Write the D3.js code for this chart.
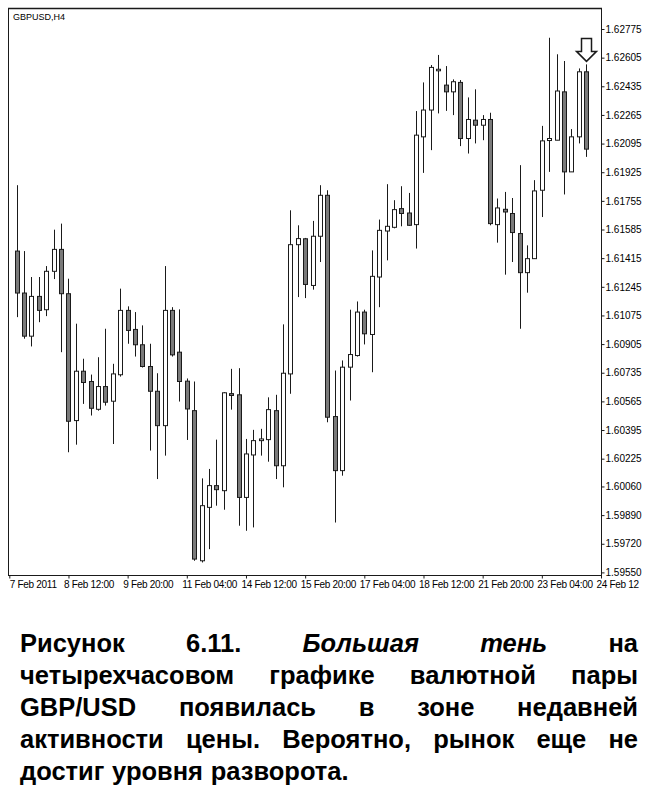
<!DOCTYPE html>
<html><head><meta charset="utf-8">
<script src="https://cdn.jsdelivr.net/npm/d3@7"></script>
<style>html,body{margin:0;padding:0;background:#fff;} svg{display:block;}</style>
</head><body>
<svg id="chart" width="650" height="797"></svg>
<script>
const symbolLabel = "GBPUSD,H4";
const openVals = [1.61457,1.61208,1.60952,1.61188,1.61109,1.61337,1.61467,1.61204,1.60451,1.60744,
 1.60683,1.60518,1.60653,1.60566,1.60723,1.61105,1.60992,1.60901,1.60772,1.60625,
 1.60421,1.61105,1.60857,1.60685,1.60510,1.59619,1.59936,1.60065,1.60035,1.60611,
 1.60604,1.59995,1.60247,1.60332,1.60338,1.60510,1.60183,1.60728,1.61495,1.61530,
 1.61253,1.61545,1.61788,1.60475,1.60154,1.60768,1.60837,1.61095,1.60962,1.61303,
 1.61576,1.61598,1.61709,1.61683,1.61614,1.62135,1.62294,1.62527,1.62442,1.62402,
 1.62458,1.62125,1.62234,1.62204,1.62238,1.61614,1.61705,1.61680,1.61561,1.61329,
 1.61412,1.61818,1.62113,1.62115,1.62402,1.61927,1.62135,1.62521];
const highVals = [1.61848,1.61457,1.61303,1.61303,1.61368,1.61584,1.61620,1.61293,1.61026,1.60818,
 1.60724,1.60827,1.60996,1.60788,1.61234,1.61129,1.61095,1.61016,1.60907,1.60732,
 1.61368,1.61124,1.61111,1.60701,1.60683,1.60108,1.60164,1.60338,1.60620,1.60758,
 1.60762,1.60342,1.60396,1.60402,1.60589,1.60604,1.61022,1.61699,1.61610,1.61535,
 1.61636,1.61848,1.61818,1.60748,1.60808,1.61109,1.61158,1.61109,1.61461,1.61644,
 1.61854,1.61759,1.61842,1.61802,1.62288,1.62458,1.62561,1.62621,1.62555,1.62476,
 1.62472,1.62369,1.62417,1.62264,1.62278,1.61769,1.61808,1.61772,1.61967,1.61491,
 1.61878,1.62200,1.62723,1.62625,1.62585,1.62181,1.62541,1.62565];
const lowVals = [1.61065,1.60937,1.60891,1.61035,1.61071,1.61291,1.60857,1.60263,1.60308,1.60550,
 1.60481,1.60510,1.60540,1.60312,1.60712,1.60907,1.60831,1.60766,1.60273,1.60104,
 1.60243,1.60831,1.60564,1.60336,1.59619,1.59609,1.59688,1.59946,1.59922,1.60516,
 1.59827,1.59797,1.59817,1.60243,1.60207,1.60104,1.60055,1.60610,1.61184,1.61178,
 1.61228,1.61392,1.60441,1.59846,1.60124,1.60570,1.60831,1.60903,1.60738,1.61124,
 1.61402,1.61592,1.61604,1.61607,1.61472,1.61921,1.62056,1.62274,1.62289,1.62264,
 1.62080,1.62036,1.62096,1.62115,1.61610,1.61507,1.61317,1.61392,1.60996,1.61210,
 1.61412,1.61659,1.61927,1.62115,1.61793,1.61927,1.62096,1.62016];
const closeVals = [1.61208,1.60952,1.61188,1.61105,1.61337,1.61467,1.61204,1.60447,1.60744,1.60677,
 1.60524,1.60653,1.60560,1.60728,1.61105,1.60986,1.60901,1.60772,1.60625,1.60421,
 1.61105,1.60841,1.60683,1.60520,1.59629,1.59946,1.60065,1.60041,1.60616,1.60600,
 1.59995,1.60253,1.60332,1.60342,1.60516,1.60183,1.60732,1.61495,1.61531,1.61259,
 1.61545,1.61788,1.60471,1.60154,1.60768,1.60843,1.61095,1.60966,1.61307,1.61580,
 1.61604,1.61703,1.61680,1.61610,1.62145,1.62294,1.62547,1.62536,1.62402,1.62462,
 1.62125,1.62238,1.62204,1.62238,1.61620,1.61713,1.61689,1.61567,1.61329,1.61412,
 1.61814,1.62111,1.62125,1.62407,1.61927,1.62135,1.62521,1.62062];
const yTickValues = [1.62775,1.62605,1.62435,1.62265,1.62095,1.61925,1.61755,1.61585,1.61415,1.61245,
 1.61075,1.60905,1.60735,1.60565,1.60395,1.60225,1.60060,1.59890,1.59720,1.59550];
const xTickLabels = ["7 Feb 2011","8 Feb 12:00","9 Feb 20:00","11 Feb 04:00","14 Feb 12:00",
 "15 Feb 20:00","17 Feb 04:00","18 Feb 12:00","21 Feb 20:00","23 Feb 04:00","24 Feb 12"];
const xTickBars = [-1,7,15,23,31,39,47,55,63,71,79];
const markedBar = 77;
const captionLines = [
  [["Рисунок",0],["6.11.",0],["Большая",1],["тень",1],["на",0]],
  [["четырехчасовом",0],["графике",0],["валютной",0],["пары",0]],
  [["GBP/USD",0],["появилась",0],["в",0],["зоне",0],["недавней",0]],
  [["активности",0],["цены.",0],["Вероятно,",0],["рынок",0],["еще",0],["не",0]],
  [["достиг",0],["уровня",0],["разворота.",0]]
];

const svg = d3.select("#chart");
const pLeft = 8, pTop = 8, pRight = 601, pBottom = 575;
const x = d3.scaleLinear().domain([-1, 79]).range([9.3, 601]);
const y = d3.scaleLinear().domain([1.59550, 1.62775]).range([572.4, 29]);
const font = "'Liberation Sans', Arial, sans-serif";
const ink = "#1a1a1a";

// frame
svg.append("rect").attr("x", pLeft + 0.5).attr("y", pTop + 0.5)
  .attr("width", pRight - pLeft).attr("height", pBottom - pTop)
  .attr("fill", "#fff").attr("stroke", ink).attr("stroke-width", 1);
svg.append("line").attr("x1", pLeft).attr("x2", pRight + 1).attr("y1", pTop + 0.5).attr("y2", pTop + 0.5)
  .attr("stroke", ink).attr("stroke-width", 1.6);

svg.append("text").attr("x", 13).attr("y", 20).attr("font-family", font)
  .attr("font-size", 9).attr("fill", "#000").text(symbolLabel);

// y axis on right
const yAxis = d3.axisRight(y).tickValues(yTickValues).tickSize(3).tickPadding(1)
  .tickFormat(d3.format(".5f"));
const gy = svg.append("g").attr("transform", `translate(${pRight + 0.5},0)`).call(yAxis);
gy.select(".domain").remove();
gy.selectAll("line").attr("stroke", ink);
gy.selectAll("text").attr("font-family", font).attr("font-size", 10).attr("fill", "#000");

// x axis
const xAxis = d3.axisBottom(x).tickValues(xTickBars).tickSize(3).tickFormat((d, i) => xTickLabels[i]);
const gx = svg.append("g").attr("transform", `translate(0,${pBottom + 0.5})`).call(xAxis);
gx.select(".domain").remove();
gx.selectAll("line").attr("stroke", ink);
gx.selectAll("text").attr("font-family", font).attr("font-size", 10).attr("fill", "#000")
  .attr("letter-spacing", -0.3)
  .attr("text-anchor", "start").attr("dx", (d, i) => i === 0 ? 0 : -5).attr("y", 5).attr("dy", "0.71em");

// candles
const idx = d3.range(openVals.length);
const g = svg.append("g");
g.selectAll("line.wick").data(idx).join("line").attr("class", "wick")
  .attr("x1", i => Math.round(x(i)) + 0.5).attr("x2", i => Math.round(x(i)) + 0.5)
  .attr("y1", i => y(highVals[i])).attr("y2", i => y(lowVals[i]))
  .attr("stroke", ink).attr("stroke-width", 1);
g.selectAll("rect.body").data(idx).join("rect").attr("class", "body")
  .attr("x", i => Math.round(x(i)) - 1.5).attr("width", 4)
  .attr("y", i => y(Math.max(openVals[i], closeVals[i])))
  .attr("height", i => Math.max(1, Math.abs(y(openVals[i]) - y(closeVals[i]))))
  .attr("fill", i => closeVals[i] >= openVals[i] ? "#fff" : "#7a7a7a")
  .attr("stroke", ink).attr("stroke-width", 1);

// arrow above marked bar
const ax = Math.round(x(markedBar)) + 0.5, at = y(highVals[markedBar]) - 3;
svg.append("path")
  .attr("d", `M${ax},${at} L${ax - 10},${at - 10} L${ax - 5},${at - 10} L${ax - 5},${at - 23} L${ax + 5},${at - 23} L${ax + 5},${at - 10} L${ax + 10},${at - 10} Z`)
  .attr("fill", "#fff").attr("stroke", ink).attr("stroke-width", 1.5);

// caption
const capLeft = 20, capRight = 638, capFont = 25.5;
captionLines.forEach((words, li) => {
  const by = 652 + li * 32;
  const texts = words.map(([w, it]) => svg.append("text")
    .attr("y", by).attr("font-family", font).attr("font-size", capFont)
    .attr("font-weight", "bold").attr("font-style", it ? "italic" : "normal")
    .attr("fill", "#000").text(w));
  const widths = texts.map(t => t.node().getComputedTextLength());
  const total = d3.sum(widths);
  const last = li === captionLines.length - 1;
  const gap = last ? capFont * 0.3 : (capRight - capLeft - total) / (words.length - 1);
  let cx = capLeft;
  texts.forEach((t, k) => { t.attr("x", cx); cx += widths[k] + gap; });
});
</script>
</body></html>
